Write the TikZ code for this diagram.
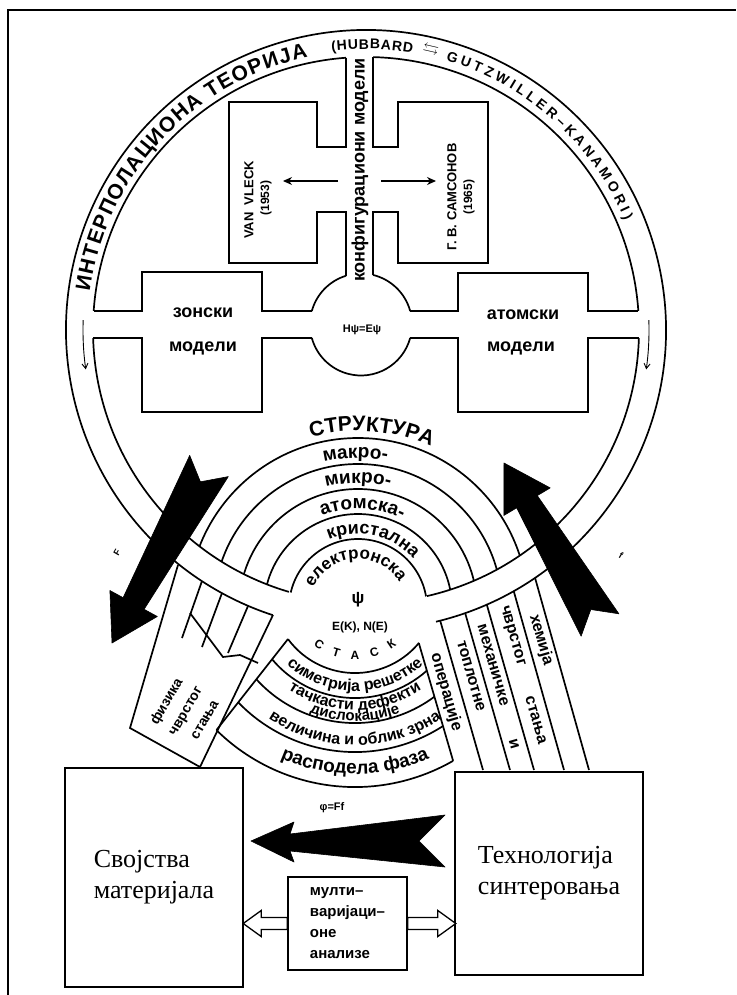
\documentclass[tikz,border=0pt]{standalone}
\usepackage{amssymb}
\usepackage{fontspec}
\setmainfont{Liberation Serif}
\newfontfamily\scanfont{Liberation Sans}
\usetikzlibrary{calc}
\usetikzlibrary{decorations.text}
\usetikzlibrary{arrows.meta}

\tikzset{
  ln/.style={line width=1.7pt},
  scan/.style={font=\scanfont\bfseries\fontsize{#1}{#1}\selectfont, inner sep=0pt},
  scan/.default=14,
  ringarrow/.style={line width=0.9pt, -{Straight Barb[length=5pt,width=6pt]}},
  blackarrow/.style={fill=black, draw=black, line width=0.6pt, line join=round},
  hollowarrow/.style={draw, fill=white, line width=1.3pt},
  bigbox/.style={draw, fill=white, line width=1.8pt, align=left,
    font=\fontsize{26}{31}\selectfont},
  multibox/.style={draw, fill=white, line width=1.6pt, align=left,
    font=\scanfont\bfseries\fontsize{15}{21}\selectfont}
}

% text along an arc: [align] centre, radius, from, to, size, text
\newcommand{\arctext}[7][center]{%
  \path[decorate, decoration={text along path, text align={#1},
    text={|\scanfont\bfseries\fontsize{#6}{#6}\selectfont|#7}}]
    ($(#2)+(#4:#3)$) arc[start angle=#4, end angle=#5, radius=#3];}

\begin{document}
\begin{tikzpicture}[x=1pt,y=1pt]
\useasboundingbox (0,0) rectangle (736,-995);
% frame
\draw[line width=2.4pt] (8,-995) -- (8,-10) -- (736,-10);

% big ring
\coordinate (ringc) at (366,-330);
\draw[ln] ($(ringc)+(-76.5:300)$) arc[start angle=-76.5, end angle=251.9, radius=300];
\foreach \a/\b in {4/88.5, 94.2/176, 181.7/253.6, -77.1/-1.7}
  \draw[ln] ($(ringc)+(\a:273)$) arc[start angle=\a, end angle=\b, radius=273];
\draw[ringarrow] ($(ringc)+(178:283)$) arc[start angle=178, end angle=188, radius=283];
\draw[ringarrow] ($(ringc)+(2:283)$) arc[start angle=2, end angle=-8, radius=283];

% ring text
\arctext[fit to path]{ringc}{279}{172}{102}{21}{ИНТЕРПОЛАЦИОНА ТЕОРИЈА}
\arctext[fit to path]{ringc}{281}{97}{80.5}{14}{(HUBBARD}
\node[rotate=-13, font=\fontsize{16}{16}\selectfont, inner sep=0pt] (hg) at ($(ringc)+(77:287)$) {$\leftrightarrows$};
\arctext[fit to path]{ringc}{281}{73.5}{23}{14}{GUTZWILLER–KANAMORI)}

% channel and upper boxes
\draw[ln] (346,-57.7) -- (346,-147) -- (317,-147) -- (317,-102) -- (229,-102) -- (229,-263)
  -- (317,-263) -- (317,-212) -- (346,-212) -- (346,-275.8);
\draw[ln] (373,-57.1) -- (373,-147) -- (398,-147) -- (398,-102) -- (488,-102) -- (488,-263)
  -- (398,-263) -- (398,-212) -- (373,-212) -- (373,-274.9);
\node[scan=18, rotate=90] (konf) at (360,-170) {конфигурациони модели};
\node[scan=13, rotate=90] (vanvleck) at (249,-200) {VAN\ \ VLECK};
\node[scan=12, rotate=90] (vvyear) at (266,-198) {(1953)};
\node[scan=13, rotate=90] (samsonov) at (452,-197) {Г. В. САМСОНОВ};
\node[scan=12, rotate=90] (syear) at (469,-197) {(1965)};
\coordinate (lfrom) at (338,-181);
\coordinate (lto) at (283,-181);
\coordinate (rfrom) at (381,-181);
\coordinate (rto) at (436,-181);
\draw[line width=1.3pt, -{Stealth[length=9pt,width=8pt]}] (lfrom) -- (lto);
\draw[line width=1.3pt, -{Stealth[length=9pt,width=8pt]}] (rfrom) -- (rto);

% centre circle and arms
\coordinate (hc) at (361,-324.5);
\draw[ln] ($(hc)+(76.4:51)$) arc[start angle=76.4, end angle=15.3, radius=51];
\draw[ln] ($(hc)+(-15.3:51)$) arc[start angle=-15.3, end angle=-164.7, radius=51];
\draw[ln] ($(hc)+(164.7:51)$) arc[start angle=164.7, end angle=107.1, radius=51];
\draw[ln] (93.7,-311) -- (142,-311) -- (142,-272) -- (262,-272) -- (262,-311) -- (311.8,-311);
\draw[ln] (311.8,-338) -- (262,-338) -- (262,-412) -- (142,-412) -- (142,-338) -- (93.1,-338);
\draw[ln] (410.2,-311) -- (458,-311) -- (458,-273) -- (588,-273) -- (588,-311) -- (638.3,-311);
\draw[ln] (638.9,-338) -- (588,-338) -- (588,-412) -- (458,-412) -- (458,-338) -- (410.2,-338);
\node[scan=11] (schr) at (362,-330) {Hψ=Eψ};
\node[scan=18] (zon1) at (203,-313) {зонски};
\node[scan=18] (zon2) at (203,-348) {модели};
\node[scan=18] (atom1) at (523,-315) {атомски};
\node[scan=18] (atom2) at (521,-348) {модели};

% structure
\coordinate (strc) at (358,-608);
\begin{scope}
  \clip (ringc) circle[radius=273];
  \foreach \rad in {69,94,119,144,170}
    \draw[ln] ($(strc)+(0:\rad)$) arc[start angle=0, end angle=180, radius=\rad];
\end{scope}
\arctext{strc}{177}{120}{51}{21}{СТРУКТУРА}
\arctext{strc}{150}{110}{72}{19}{макро-}
\arctext{strc}{125}{115}{65}{19}{микро-}
\arctext{strc}{99}{130}{45}{19}{атомска-}
\arctext{strc}{74}{140}{15}{18}{кристална}
\arctext{strc}{49}{185}{3}{17}{електронска}
\node[scan=17] (psi) at (358,-600) {ψ};
\node[scan=12] (ek) at (360,-627) {E(K), N(E)};

% lower fan
\coordinate (fanc) at (355,-590);
\begin{scope}
  \clip (301.8,-622) -- (145.5,-820) -- (470.4,-820) -- (412.6,-622) -- cycle;
  \foreach \rad in {83,108,133,162,197}
    \draw[ln] ($(fanc)+(200:\rad)$) arc[start angle=200, end angle=340, radius=\rad];
\end{scope}
\draw[ln] (288,-639) -- (216.5,-730);
\draw[ln] (418.8,-643) -- (453.1,-760.8);
\arctext[fit to path]{fanc}{69}{233}{307}{12}{СТАСК}
\arctext{fanc}{101}{205}{335}{16}{симетрија решетке}
\arctext{fanc}{120}{210}{330}{16}{тачкасти дефекти}
\arctext{fanc}{131}{210}{330}{15}{дислокације}
\arctext{fanc}{155}{210}{330}{16}{величина и облик зрна}
\arctext{fanc}{184}{215}{325}{19}{расподела фаза}

% physics box
\draw[ln] (273,-615) -- (200,-767) -- (130,-728) -- (178,-565);
\draw[ln] (202,-581) -- (182,-638);
\draw[ln] (222,-593) -- (202,-647);
\draw[ln] (248,-606) -- (228,-653);
\draw[ln] (190,-613) -- (223,-657) -- (240,-655) -- (258,-663);
\node[scan=14, rotate=60] (fiz1) at (167,-702) {физика};
\node[scan=14, rotate=60] (fiz2) at (187,-712) {чврстог};
\node[scan=14, rotate=60] (fiz3) at (205,-720) {стања};

% technology strips
\draw[ln] (440.2,-620.7) -- (483,-770);
\draw[ln] (465.2,-613.2) -- (510,-770);
\draw[ln] (486.8,-604.6) -- (534,-770);
\draw[ln] (513.7,-591) -- (564,-770);
\draw[ln] (535,-577.7) -- (589,-770);
\node[scan=16, rotate=-74] (oper) at (446,-692) {операције};
\node[scan=16, rotate=-74] (topl) at (471,-676) {топлотне};
\node[scan=16, rotate=-74] (meh) at (493,-665) {механичке};
\node[scan=16, rotate=-74] (mehi) at (514,-744) {и};
\node[scan=16, rotate=-74] (cvr) at (512,-636) {чврстог};
\node[scan=16, rotate=-74] (cvr2) at (536,-720) {стања};
\node[scan=16, rotate=-74] (hem) at (541,-640) {хемија};

% big black arrows
\fill[blackarrow] (112,-643) -- (157.3,-616.5) -- (144.1,-609.3) -- (228.3,-476.6)
  -- (200.4,-481.8) -- (189.7,-455.4) -- (123.1,-597.7) -- (109.9,-590.5) -- cycle;
\fill[blackarrow] (504,-463) -- (550.2,-487.9) -- (537.3,-495.6) -- (618.9,-613.8)
  -- (590.8,-609.5) -- (581.1,-636.2) -- (516.7,-507.8) -- (503.8,-515.5) -- cycle;
\node[scan=9, rotate=60] (bigf) at (117,-553) {F};
\node[scan=9, rotate=-30] (smallf) at (621,-555) {f};

% bottom boxes
\node[bigbox, minimum width=178, minimum height=219] (svojstva) at (154,-877.5) {Својства\\материјала};
\node[bigbox, minimum width=188, minimum height=203] (tehno) at (549,-873.5) {Технологија\\синтеровања};
\node[multibox, minimum width=119, minimum height=93] (multi) at (347.5,-923.5) {мулти–\\варијаци–\\оне\\анализе};
\node[scan=11] (phi) at (332,-808) {φ=Ff};
\coordinate (ftip) at (251,-841);
\fill[blackarrow] (ftip) -- (294,-822) -- (290,-834) -- (445,-815) -- (419,-841)
  -- (445,-867) -- (290,-851) -- (294,-862) -- cycle;
\draw[hollowarrow] (multi.west) ++(0,6) -- ++(-26,0) -- ++(0,7) -- ++(-18,-13)
  -- ++(18,-13) -- ++(0,7) -- ++(26,0) -- cycle;
\draw[hollowarrow] (multi.east) ++(0,6) -- ++(30,0) -- ++(0,7) -- ++(18,-13)
  -- ++(-18,-13) -- ++(0,7) -- ++(-30,0) -- cycle;
\end{tikzpicture}
\end{document}
